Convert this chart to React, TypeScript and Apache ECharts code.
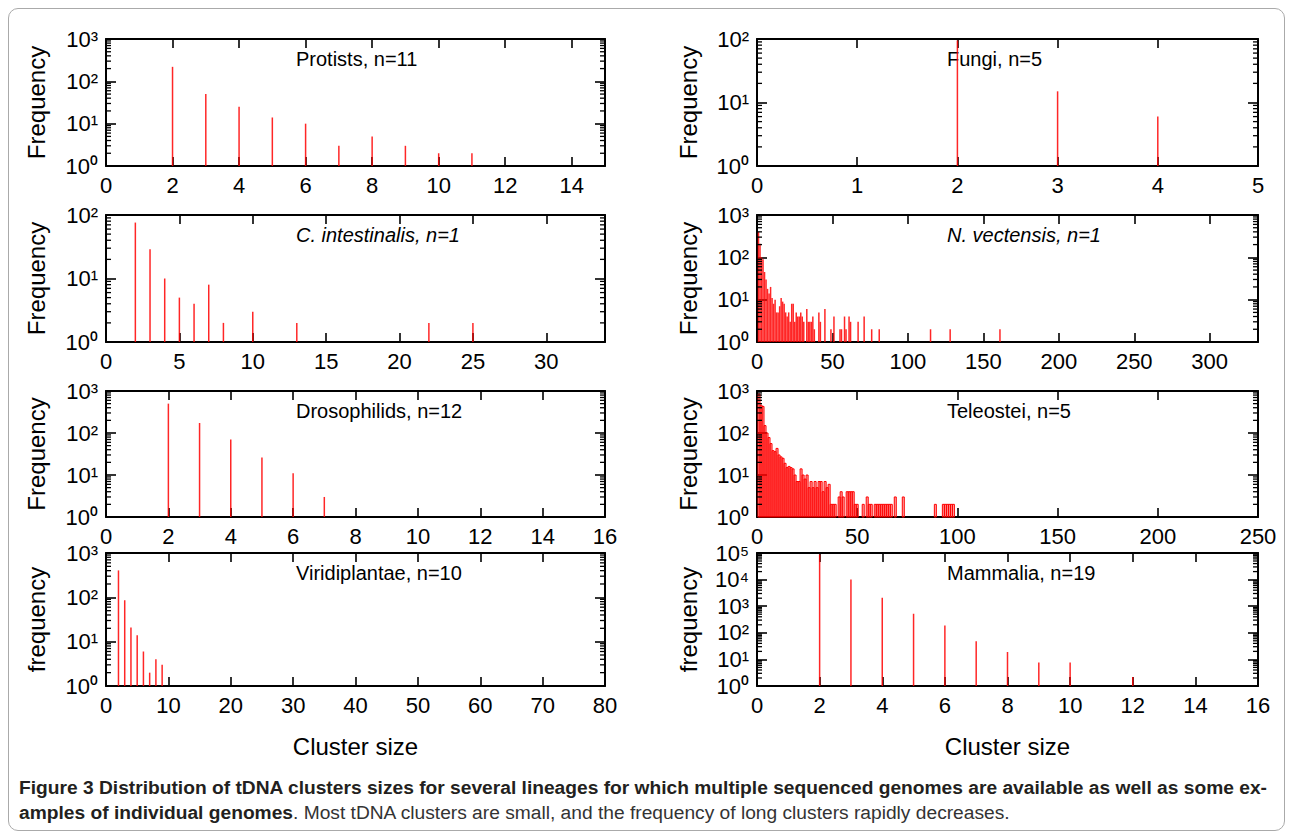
import React, { useEffect, useRef } from "react";
import * as echarts from "echarts";

// ---------------- data ----------------
const protistsSize = [2, 3, 4, 5, 6, 7, 8, 9, 10, 11];
const protistsFreq = [220, 50, 25, 14, 10, 3, 5, 3, 2, 2];

const fungiSize = [2, 3, 4];
const fungiFreq = [95, 15, 6];

const cionaSize = [2, 3, 4, 5, 6, 7, 8, 10, 13, 22, 25];
const cionaFreq = [76, 29, 10, 5, 4, 8, 2, 3, 2, 2, 2];

const nematoSize = [
  1, 2, 3, 4, 5, 6, 7, 8, 9, 10, 11, 12, 13, 14, 15, 16, 17, 18, 19, 20, 21, 22, 23, 24, 25, 26, 27, 28, 29, 30, 31,
  33, 34, 35, 36, 37, 38, 41, 42, 45, 49, 51, 55, 56, 58, 59, 61, 62, 67, 71, 76, 81, 115, 128, 161,
];
const nematoFreq = [
  400, 210, 100, 90, 45, 30, 18, 14, 20, 11, 8, 10, 5, 5, 7, 11, 9, 8, 5, 4, 5, 3, 8, 8, 3, 5, 4, 4, 5, 4, 3,
  6, 3, 3, 3, 4, 2, 5, 3, 6, 2, 4, 2, 2, 4, 2, 4, 3, 3, 4, 2, 2, 2, 2, 2,
];

const drosoSize = [2, 3, 4, 5, 6, 7];
const drosoFreq = [500, 173, 70, 26, 11, 3];

const teleoSize = [
  1, 2, 3, 4, 5, 6, 7, 8, 9, 10, 11, 12, 13, 14, 15, 16, 17, 18, 19, 20, 21, 22, 23, 24, 25, 26, 27, 28, 29, 30,
  31, 32, 33, 34, 35, 36, 37, 38, 39, 41, 42, 43, 45, 46, 47, 48, 49, 50, 53, 55, 56, 57,
  59, 60, 61, 62, 63, 64, 65, 66, 67, 69, 73, 89, 93, 94, 95, 96, 97, 98,
];
const teleoFreq = [
  850, 460, 430, 150, 100, 78, 56, 38, 36, 43, 30, 27, 25, 19, 15, 16, 15, 14, 10, 7, 7, 14, 10, 8, 10, 5, 7, 5, 7, 5,
  7, 7, 4, 7, 5, 6, 2, 2, 2, 3, 4, 3, 4, 4, 4, 4, 2, 2, 2, 3, 2, 2,
  2, 2, 2, 2, 2, 2, 2, 2, 2, 3, 3, 2, 2, 2, 2, 2, 2, 2,
];

const viridiSize = [2, 3, 4, 5, 6, 7, 8, 9];
const viridiFreq = [405, 86, 21, 14, 6, 2, 4, 3];

const mammalSize = [2, 3, 4, 5, 6, 7, 8, 9, 10, 12];
const mammalFreq = [88000, 10000, 2100, 520, 190, 48, 19, 7.7, 7.7, 2.2];

const panelTitles = [
  "Protists, n=11",
  "Fungi, n=5",
  "C. intestinalis, n=1",
  "N. vectensis, n=1",
  "Drosophilids, n=12",
  "Teleostei, n=5",
  "Viridiplantae, n=10",
  "Mammalia, n=19",
];
const xAxisMax = [15, 5, 34, 332, 16, 250, 80, 16];
const xAxisStep = [2, 1, 5, 50, 2, 50, 10, 2];
const yAxisMax = [1e3, 1e2, 1e2, 1e3, 1e3, 1e3, 1e3, 1e5];
const yAxisNames = ["Frequency", "Frequency", "Frequency", "Frequency", "Frequency", "Frequency", "frequency", "frequency"];
const xAxisName = "Cluster size";
const superDigits = ["⁰", "¹", "²", "³", "⁴", "⁵"];

const captionBold1 =
  "Figure 3 Distribution of tDNA clusters sizes for several lineages for which multiple sequenced genomes are available as well as some ex-";
const captionBold2 = "amples of individual genomes";
const captionRest2 = ". Most tDNA clusters are small, and the frequency of long clusters rapidly decreases.";

// ---------------- layout ----------------
const FONT = "'Liberation Sans', Arial, Helvetica, sans-serif";
const COL_LEFT = [106, 757];
const COL_WIDTH = [499, 501];
const YNAME_X = [36, 688];
const ROW_TOP = [39, 215, 391, 553];
const ROW_HEIGHT = [127, 127, 126, 133];

const panelData = [
  { size: protistsSize, freq: protistsFreq, boxes: false, italic: false },
  { size: fungiSize, freq: fungiFreq, boxes: false, italic: false },
  { size: cionaSize, freq: cionaFreq, boxes: false, italic: true },
  { size: nematoSize, freq: nematoFreq, boxes: false, italic: true },
  { size: drosoSize, freq: drosoFreq, boxes: false, italic: false },
  { size: teleoSize, freq: teleoFreq, boxes: true, italic: false },
  { size: viridiSize, freq: viridiFreq, boxes: false, italic: false },
  { size: mammalSize, freq: mammalFreq, boxes: false, italic: false },
];

function measure(text: string, font: string): number {
  const c = document.createElement("canvas").getContext("2d");
  if (!c) return text.length * 9;
  c.font = font;
  return c.measureText(text).width;
}

function panelOption(i: number): any {
  const p = panelData[i];
  const col = i % 2;
  const row = Math.floor(i / 2);
  const left = COL_LEFT[col];
  const top = ROW_TOP[row];
  const width = COL_WIDTH[col];
  const height = ROW_HEIGHT[row];
  const step = xAxisStep[i];
  const frameLine = { show: true, onZero: false, lineStyle: { color: "#000", width: 2 } };
  const xBase = {
    type: "value",
    min: 0,
    max: xAxisMax[i],
    interval: step,
    axisLine: frameLine,
    splitLine: { show: false },
    axisTick: { show: true, inside: true, length: 9, lineStyle: { color: "#000", width: 1.6 } },
  };
  const decades = Math.round(Math.log10(yAxisMax[i]));
  const yBase = {
    type: "log",
    logBase: 10,
    min: 1,
    max: yAxisMax[i],
    splitNumber: decades,
    axisLine: frameLine,
    splitLine: { show: false },
    axisTick: { show: true, inside: true, length: 10, lineStyle: { color: "#000", width: 1.6 } },
  };
  const minorData: number[][] = [];
  for (let d = 0; d < decades; d++) {
    for (let m = 2; m <= 9; m++) {
      minorData.push([0, m * Math.pow(10, d), 1]);
      minorData.push([xAxisMax[i], m * Math.pow(10, d), -1]);
    }
  }
  const graphics: any[] = [
    {
      type: "text",
      x: left + 190,
      y: top + 10,
      style: {
        text: panelTitles[i],
        fontSize: 20,
        fontFamily: FONT,
        fontStyle: p.italic ? "italic" : "normal",
        fill: "#000",
        verticalAlign: "top",
      },
    },
    {
      type: "text",
      x: YNAME_X[col],
      y: top + height / 2,
      rotation: Math.PI / 2,
      style: {
        text: yAxisNames[i],
        fontSize: 24,
        fontFamily: FONT,
        fill: "#000",
        align: "center",
        verticalAlign: "middle",
      },
    },
  ];
  if (row === 3) {
    graphics.push({
      type: "text",
      x: left + width / 2,
      y: 746,
      style: { text: xAxisName, fontSize: 24, fontFamily: FONT, fill: "#000", align: "center", verticalAlign: "middle" },
    });
  }
  return {
    animation: false,
    backgroundColor: "transparent",
    grid: { left, top, width, height, show: false, containLabel: false },
    xAxis: [
      {
        ...xBase,
        position: "bottom",
        axisLabel: { fontSize: 22, fontFamily: FONT, color: "#000", showMaxLabel: xAxisMax[i] % step === 0 },
      },
      { ...xBase, position: "top", axisLabel: { show: false } },
    ],
    yAxis: [
      {
        ...yBase,
        position: "left",
        axisLabel: {
          fontSize: 22,
          fontFamily: FONT,
          color: "#000",
          formatter: (v: number) => "10" + superDigits[Math.round(Math.log10(v))],
        },
      },
      { ...yBase, position: "right", axisLabel: { show: false } },
    ],
    series: [
      {
        type: "custom",
        xAxisIndex: 0,
        yAxisIndex: 0,
        z: 4,
        data: minorData,
        renderItem: (params: any, api: any) => {
          const a = api.coord([api.value(0), api.value(1)]);
          return {
            type: "line",
            shape: { x1: a[0], y1: a[1], x2: a[0] + 5 * api.value(2), y2: a[1] },
            style: { stroke: "#000", lineWidth: 1.3 },
          };
        },
      },
      {
        type: "custom",
        xAxisIndex: 0,
        yAxisIndex: 0,
        z: 3,
        data: p.size.map((s, j) => [s, p.freq[j]]),
        renderItem: p.boxes
          ? (params: any, api: any) => {
              const x = api.value(0);
              const tl = api.coord([x - 0.5, api.value(1)]);
              const br = api.coord([x + 0.5, 1]);
              return {
                type: "rect",
                shape: { x: tl[0], y: tl[1], width: br[0] - tl[0], height: br[1] - tl[1] },
                style: { fill: "rgba(255,0,0,0.35)", stroke: "#ff0000", lineWidth: 1 },
              };
            }
          : (params: any, api: any) => {
              const x = api.value(0);
              const t = api.coord([x, api.value(1)]);
              const b = api.coord([x, 1]);
              return {
                type: "line",
                shape: { x1: t[0], y1: t[1], x2: b[0], y2: b[1] },
                style: { stroke: "#ff0000", lineWidth: 1.5, opacity: 0.85 },
              };
            },
      },
    ],
    graphic: graphics,
  };
}

export default function App() {
  const refs = useRef<(HTMLDivElement | null)[]>([]);
  const capRef = useRef<HTMLDivElement>(null);

  useEffect(() => {
    const charts: any[] = [];
    panelData.forEach((_, i) => {
      const el = refs.current[i];
      if (!el) return;
      const chart = echarts.init(el, null, { renderer: "svg" });
      chart.setOption(panelOption(i));
      charts.push(chart);
    });
    if (capRef.current) {
      const cap = echarts.init(capRef.current, null, { renderer: "svg" });
      const w1 = measure(captionBold1, `bold 18px ${FONT}`);
      const capSize = Math.floor(((18 * 1251) / w1) * 10) / 10;
      cap.setOption({
        animation: false,
        backgroundColor: "transparent",
        title: [
          {
            text: captionBold1,
            left: 19,
            top: 778,
            padding: 0,
            textStyle: { fontSize: capSize, fontWeight: "bold", fontFamily: FONT, color: "#231f20" },
          },
          {
            text: `{b|${captionBold2}}{r|${captionRest2}}`,
            left: 19,
            top: 803,
            padding: 0,
            textStyle: {
              fontSize: capSize,
              fontFamily: FONT,
              color: "#231f20",
              rich: {
                b: { fontSize: capSize, fontWeight: "bold", fontFamily: FONT, color: "#231f20" },
                r: { fontSize: capSize, fontWeight: "normal", fontFamily: FONT, color: "#333" },
              },
            },
          },
        ],
      });
      charts.push(cap);
    }
    return () => charts.forEach((c) => c.dispose());
  }, []);

  const layer: React.CSSProperties = { position: "absolute", left: 0, top: 0, width: 1292, height: 839 };
  return (
    <div style={{ ...layer, background: "#fff" }}>
      <div
        style={{
          position: "absolute",
          left: 8,
          top: 8,
          width: 1277,
          height: 823,
          border: "1.2px solid #aaaaaa",
          borderRadius: 10,
          boxSizing: "border-box",
        }}
      />
      {panelData.map((_, i) => (
        <div key={i} ref={(el) => { refs.current[i] = el; }} style={layer} />
      ))}
      <div ref={capRef} style={layer} />
    </div>
  );
}
